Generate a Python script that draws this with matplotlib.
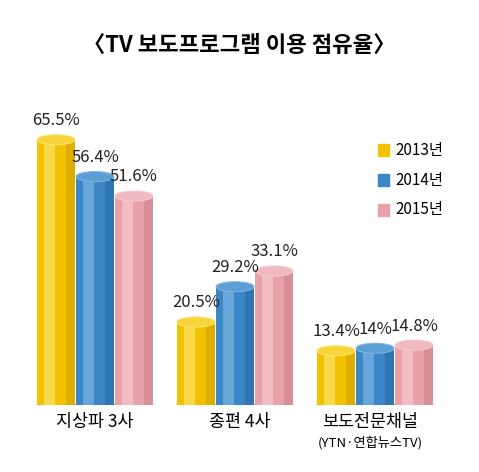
import matplotlib
matplotlib.use("Agg")
import matplotlib.pyplot as plt
from matplotlib.patches import Ellipse, Rectangle

plt.rcParams['font.family'] = ['Noto Sans CJK KR', 'DejaVu Sans']

categories = ['지상파 3사', '종편 4사', '보도전문채널']
years = ['2013년', '2014년', '2015년']
v2013 = [65.5, 20.5, 13.4]
v2014 = [56.4, 29.2, 14.0]
v2015 = [51.6, 33.1, 14.8]
labels = [['65.5%', '20.5%', '13.4%'], ['56.4%', '29.2%', '14%'], ['51.6%', '33.1%', '14.8%']]
series = [v2013, v2014, v2015]

side = ['#F2C200', '#3A86C6', '#E8A1A9']
light = ['#FBE46A', '#7DB3E0', '#F5C9CE']
dark = ['#C99A00', '#2565A0', '#C97C86']
top = ['#F7D43A', '#5C9ED6', '#F0B8BF']

W, H = 479, 472
fig = plt.figure(figsize=(W/100, H/100), dpi=100)
base_px = 405
ppu = 4.05
ax = fig.add_axes([0, 1 - base_px/H, 1, 80*ppu/H])
ax.set_ylim(0, 80)
upx = 140
ax.set_xlim(-95/upx, (W-95)/upx)
ax.axis('off')

bw = 0.27
offs = [-39/upx, 0, 39/upx]
eh = 10/ppu
for s, vals in enumerate(series):
    xs = [g + offs[s] for g in range(3)]
    z = 2 + s*3
    ax.bar(xs, vals, width=bw, color=side[s], zorder=z)
    ax.bar([x - bw*0.18 for x in xs], vals, width=bw*0.3, color=light[s], alpha=0.7, zorder=z+0.5)
    ax.bar([x + bw*0.38 for x in xs], vals, width=bw*0.24, color=dark[s], alpha=0.5, zorder=z+0.5)
    for i, (x, v) in enumerate(zip(xs, vals)):
        ax.add_patch(Ellipse((x, 0), bw, eh, color=side[s], zorder=z-0.5))
        ax.add_patch(Ellipse((x, v), bw, eh, facecolor=top[s], edgecolor=light[s], lw=0.8, zorder=z+1))
        ax.text(x, v + 2.6, labels[s][i], ha='center', va='bottom', fontsize=12, color='#222222', zorder=20)

fig.text(0.5, 1 - 45/H, '〈TV 보도프로그램 이용 점유율〉', ha='center', va='center', fontsize=16, fontweight='bold')
cx = [95, 240, 370]
for i, c in enumerate(categories):
    fig.text(cx[i]/W, 1 - 422/H, c, ha='center', va='center', fontsize=12.5)
fig.text(370/W, 1 - 443/H, '(YTN·연합뉴스TV)', ha='center', va='center', fontsize=9.5)

for s, y in enumerate(years):
    yp = 150 + s*30
    fig.patches.append(Rectangle((378/W, 1 - (yp+6)/H), 11/W, 12/H, transform=fig.transFigure, color=side[s]))
    fig.text(395/W, 1 - yp/H, y, ha='left', va='center', fontsize=11)

fig.savefig('out.png', dpi=100, facecolor='white')
